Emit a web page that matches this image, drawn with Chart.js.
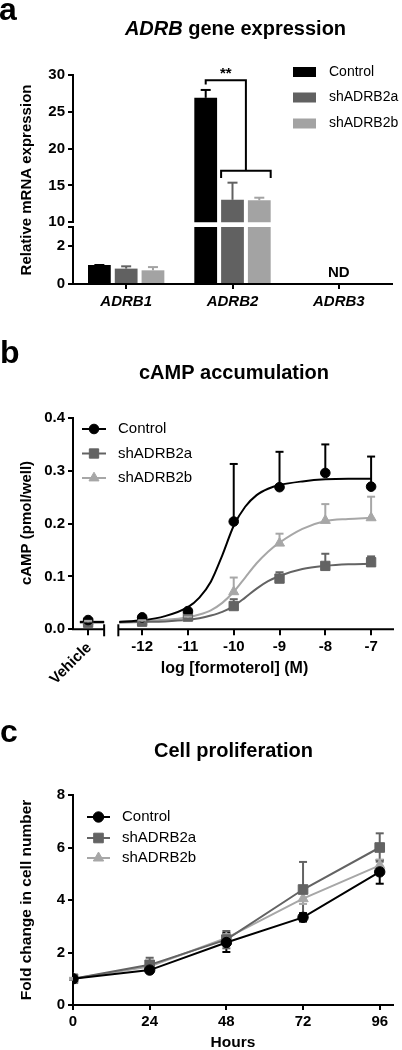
<!DOCTYPE html>
<html><head><meta charset="utf-8">
<script src="https://cdn.jsdelivr.net/npm/chart.js@4.4.1/dist/chart.umd.min.js"></script>
<style>
html,body{margin:0;padding:0;background:#fff;}
#wrap{position:relative;width:402px;height:1050px;overflow:hidden;background:#fff;}
canvas{position:absolute;left:0;top:0;}
</style></head><body>
<div id="wrap">
<canvas id="cA1" width="402" height="1050"></canvas>
<canvas id="cA2" width="402" height="1050"></canvas>
<canvas id="cB" width="402" height="1050"></canvas>
<canvas id="cC" width="402" height="1050"></canvas>
</div>
<script>
// ---------------- Panel a: ADRB gene expression ----------------
const geneNames = ['ADRB1', 'ADRB2', 'ADRB3'];
const seriesNames = ['Control', 'shADRB2a', 'shADRB2b'];
const exprControl = [1.00, 26.9, null];
const exprShA = [0.81, 13.05, null];
const exprShB = [0.72, 12.99, null];
const exprErrControl = [0.00, 1.07, null];
const exprErrShA = [0.12, 2.33, null];
const exprErrShB = [0.17, 0.35, null];
const upperTicks = [10, 15, 20, 25, 30];
const lowerTicks = [0, 2, 3];
const lowerTickLabels = ['0', '2', ''];
const ndLabel = 'ND';
const ndValue = 0.6;
const sigLabel = '**';
const sigTop = 29.3, sigLeftEnd = 28.7, sigLow = 17.0, sigLowEnd = 16.0;

// ---------------- Panel b: cAMP accumulation ----------------
const vehicleLabel = 'Vehicle';
const vehicleLog = -13.18;
const doseLogs = [-12, -11, -10, -9, -8, -7];
const campVehicle = [0.0175, 0.0125, 0.014];   // Control, shADRB2a, shADRB2b
const campVehicleErr = [0.002, 0.002, 0.002];
const campControl = [0.0226, 0.0345, 0.204, 0.269, 0.296, 0.270];
const campShA = [0.0144, 0.024, 0.044, 0.096, 0.120, 0.127];
const campShB = [0.015, 0.022, 0.071, 0.163, 0.206, 0.211];
const campErrControl = [0.003, 0.003, 0.109, 0.067, 0.054, 0.057];
const campErrShA = [0.002, 0.003, 0.013, 0.012, 0.023, 0.011];
const campErrShB = [0.002, 0.002, 0.027, 0.018, 0.031, 0.040];
const fitLogs = [-13.36, -12.83, -12.5, -12, -11.5, -11, -10.75, -10.5, -10.25, -10, -9.75, -9.5, -9.25, -9, -8.5, -8, -7.5, -7];
const fitControl = [0.014, 0.014, 0.014, 0.017, 0.025, 0.042, 0.060, 0.090, 0.140, 0.196, 0.232, 0.254, 0.266, 0.273, 0.280, 0.284, 0.285, 0.285];
const fitShA = [0.013, 0.013, 0.013, 0.014, 0.015, 0.018, 0.021, 0.026, 0.033, 0.044, 0.060, 0.077, 0.091, 0.101, 0.114, 0.120, 0.123, 0.124];
const fitShB = [0.015, 0.015, 0.015, 0.016, 0.018, 0.023, 0.028, 0.036, 0.050, 0.071, 0.098, 0.125, 0.147, 0.164, 0.190, 0.205, 0.209, 0.211];
const campTicks = [0, 0.1, 0.2, 0.3, 0.4];
const xBreakStart = -12.83, xBreakEnd = -12.52;

// ---------------- Panel c: Cell proliferation ----------------
const hours = [0, 24, 48, 72, 96];
const foldControl = [1.0, 1.33, 2.38, 3.34, 5.07];
const foldShA = [1.0, 1.53, 2.49, 4.40, 6.00];
const foldShB = [1.0, 1.47, 2.55, 4.05, 5.32];
const foldErrControl = [0.03, 0.10, 0.36, 0.16, 0.45];
const foldErrShA = [0.03, 0.27, 0.33, 1.05, 0.54];
const foldErrShB = [0.03, 0.12, 0.15, 0.20, 0.22];
const foldTicks = [0, 2, 4, 6, 8];

// ---------------- texts ----------------
const titleA1 = 'ADRB', titleA2 = ' gene expression';
const titleB = 'cAMP accumulation';
const titleC = 'Cell proliferation';
const yTitleA = 'Relative mRNA expression';
const yTitleB = 'cAMP (pmol/well)';
const yTitleC = 'Fold change in cell number';
const xTitleB = 'log [formoterol] (M)';
const xTitleC = 'Hours';

// ---------------- styling ----------------
const FONT = '"Liberation Sans", Arial, Helvetica, sans-serif';
const COL = ['#000000', '#636363', '#a7a7a7'];
const BARCOL = ['#000000', '#616161', '#a3a3a3'];
const W = 402, H = 1050, XH = 40;
const AREA_A1 = {left: 73, right: 392, top: 75, bottom: 222.3};
const AREA_A2 = {left: 73, right: 392, top: 227, bottom: 284};
const AREA_B = {left: 73, right: 394, top: 418, bottom: 629.3};
const AREA_C = {left: 73, right: 392.5, top: 795, bottom: 1005};

function layoutFor(a, xh) {
  return {padding: {left: 0, top: a.top, right: W - a.right, bottom: H - a.bottom - xh}};
}
const tickFont = {family: FONT, size: 15, weight: 'bold'};
const axisGrid = {drawOnChartArea: false, drawTicks: true, tickLength: 5, color: '#000', lineWidth: 2, offset: false};
const axisBorder = {display: true, color: '#000', width: 2};
const base = {responsive: false, animation: false, devicePixelRatio: 1, events: [],
  plugins: {legend: {display: false}, tooltip: {enabled: false}, title: {display: false}}};

function font(size, bold, italic) {
  return (italic ? 'italic ' : '') + (bold ? 'bold ' : '') + size + 'px ' + FONT;
}
function text(ctx, s, x, y, f, align, baseline) {
  ctx.save(); ctx.fillStyle = '#000'; ctx.font = f;
  ctx.textAlign = align || 'center'; ctx.textBaseline = baseline || 'middle';
  ctx.fillText(s, x, y); ctx.restore();
}
function vtext(ctx, s, x, y, f) {
  ctx.save(); ctx.translate(x, y); ctx.rotate(-Math.PI / 2);
  ctx.fillStyle = '#000'; ctx.font = f; ctx.textAlign = 'center'; ctx.textBaseline = 'middle';
  ctx.fillText(s, 0, 0); ctx.restore();
}
function line(ctx, x1, y1, x2, y2, color, w) {
  ctx.save(); ctx.strokeStyle = color || '#000'; ctx.lineWidth = w || 2; ctx.lineCap = 'butt';
  ctx.beginPath(); ctx.moveTo(x1, y1); ctx.lineTo(x2, y2); ctx.stroke(); ctx.restore();
}
// error bars through the library's scale
function drawErrors(chart, capHalf, both) {
  const ys = chart.scales.y;
  chart.data.datasets.forEach((ds, di) => {
    if (!ds.errorUp) return;
    const meta = chart.getDatasetMeta(di);
    meta.data.forEach((el, i) => {
      const e = ds.errorUp[i];
      const raw = ds.data[i];
      const v = (raw !== null && typeof raw === 'object') ? raw.y : raw;
      if (e == null || v == null) return;
      if (v > ys.max || v + e < ys.min) return;
      const x = el.x;
      const yv = ys.getPixelForValue(v), yu = ys.getPixelForValue(v + e);
      const c = ds.errorColor;
      line(chart.ctx, x, yv, x, yu, c, 2);
      line(chart.ctx, x - capHalf, yu, x + capHalf, yu, c, 2);
      if (both) {
        const yd = ys.getPixelForValue(v - e);
        line(chart.ctx, x, yv, x, yd, c, 2);
        line(chart.ctx, x - capHalf, yd, x + capHalf, yd, c, 2);
      }
    });
  });
}
function legendMarker(ctx, x1, x2, y, color, style, r, label, tx) {
  line(ctx, x1, y, x2, y, color, 2);
  ctx.save(); ctx.fillStyle = color; ctx.strokeStyle = color;
  Chart.helpers.drawPoint(ctx, {pointStyle: style, radius: r, borderWidth: 1, rotation: 0}, (x1 + x2) / 2, y);
  ctx.restore();
  text(ctx, label, tx, y, font(15, false), 'left', 'middle');
}

// ---------------- Chart a (upper segment) ----------------
function barSets() {
  const vals = [exprControl, exprShA, exprShB];
  const errs = [exprErrControl, exprErrShA, exprErrShB];
  return vals.map((v, i) => ({label: seriesNames[i], data: v, errorUp: errs[i], errorColor: BARCOL[i],
    backgroundColor: BARCOL[i], borderWidth: 0, clip: 0, categoryPercentage: 0.756, barPercentage: 0.85}));
}
const plugA1 = {
  id: 'plugA1',
  afterDatasetsDraw(chart) { drawErrors(chart, 5, false); },
  afterDraw(chart) {
    const ctx = chart.ctx, ys = chart.scales.y;
    text(ctx, 'a', -1, 20, font(32, true), 'left', 'alphabetic');
    ctx.save(); ctx.font = font(20, true, true); const w1 = ctx.measureText(titleA1).width;
    ctx.font = font(20, true); const w2 = ctx.measureText(titleA2).width; ctx.restore();
    const x0 = 235.5 - (w1 + w2) / 2;
    text(ctx, titleA1, x0, 34.5, font(20, true, true), 'left', 'alphabetic');
    text(ctx, titleA2, x0 + w1, 34.5, font(20, true), 'left', 'alphabetic');
    vtext(ctx, yTitleA, 27, 180, font(15, true));
    // legend
    const ly = [72, 97.5, 123.5];
    seriesNames.forEach((s, i) => {
      ctx.save(); ctx.fillStyle = BARCOL[i]; ctx.fillRect(293, ly[i] - 5, 23, 10); ctx.restore();
      text(ctx, s, 329, ly[i], font(14, false), 'left', 'middle');
    });
    // significance bracket
    const c = chart.getDatasetMeta(0).data[1], a = chart.getDatasetMeta(1).data[1], b = chart.getDatasetMeta(2).data[1];
    const yTop = ys.getPixelForValue(sigTop), yLE = ys.getPixelForValue(sigLeftEnd);
    const yLow = ys.getPixelForValue(sigLow), yLowE = ys.getPixelForValue(sigLowEnd);
    const xr = (a.x + b.x) / 2;
    ctx.save(); ctx.strokeStyle = '#000'; ctx.lineWidth = 2; ctx.lineJoin = 'miter';
    ctx.beginPath(); ctx.moveTo(c.x, yLE); ctx.lineTo(c.x, yTop); ctx.lineTo(xr, yTop); ctx.lineTo(xr, yLow); ctx.stroke();
    ctx.beginPath(); ctx.moveTo(a.x - a.width / 2, yLowE); ctx.lineTo(a.x - a.width / 2, yLow);
    ctx.lineTo(b.x + b.width / 2, yLow); ctx.lineTo(b.x + b.width / 2, yLowE); ctx.stroke();
    ctx.restore();
    text(ctx, sigLabel, (c.x + xr) / 2, yTop - 6, font(15, true), 'center', 'middle');
  }
};
new Chart(document.getElementById('cA1'), {
  type: 'bar',
  data: {labels: geneNames, datasets: barSets()},
  options: Object.assign({}, base, {
    layout: layoutFor(AREA_A1, 0),
    scales: {
      x: {display: false, offset: true},
      y: {min: 10, max: 30, afterFit: s => { s.width = AREA_A1.left; },
        afterBuildTicks: s => { s.ticks = upperTicks.map(v => ({value: v})); },
        ticks: {color: '#000', font: tickFont, padding: 3}, grid: axisGrid, border: axisBorder}
    }
  }),
  plugins: [plugA1]
});

// ---------------- Chart a (lower segment) ----------------
const plugA2 = {
  id: 'plugA2',
  afterDatasetsDraw(chart) { drawErrors(chart, 5, false); },
  afterDraw(chart) {
    const ctx = chart.ctx, xs = chart.scales.x, ys = chart.scales.y;
    text(ctx, ndLabel, xs.getPixelForValue(2), ys.getPixelForValue(ndValue), font(15, true), 'center', 'middle');
    geneNames.forEach((g, i) => text(ctx, g, xs.getPixelForValue(i), ys.getPixelForValue(0) + 18, font(15, true, true), 'center', 'middle'));
  }
};
new Chart(document.getElementById('cA2'), {
  type: 'bar',
  data: {labels: geneNames, datasets: barSets()},
  options: Object.assign({}, base, {
    layout: layoutFor(AREA_A2, XH),
    scales: {
      x: {offset: true, afterFit: s => { s.height = XH; },
        ticks: {display: false},
        grid: axisGrid, border: axisBorder},
      y: {min: 0, max: 3, afterFit: s => { s.width = AREA_A2.left; },
        afterBuildTicks: s => { s.ticks = lowerTicks.map(v => ({value: v})); },
        ticks: {color: '#000', font: tickFont, padding: 3,
          callback: (v) => lowerTickLabels[lowerTicks.indexOf(v)]},
        grid: axisGrid, border: axisBorder}
    }
  }),
  plugins: [plugA2]
});

// ---------------- Chart b ----------------
function pts(xsArr, ysArr) { return xsArr.map((x, i) => ({x: x, y: ysArr[i]})); }
function fitPts(vals) {
  const p = pts(fitLogs, vals);
  const cut = p.findIndex(q => q.x > xBreakStart);
  p.splice(cut, 0, {x: (xBreakStart + xBreakEnd) / 2, y: null});
  return p;
}
const campVals = [campControl, campShA, campShB];
const campErrs = [campErrControl, campErrShA, campErrShB];
const fits = [fitControl, fitShA, fitShB];
const stylesB = [{s: 'circle', r: 4.8}, {s: 'rect', r: 6.6}, {s: 'triangle', r: 5.8}];
const dsB = [];
campVals.forEach((v, i) => {
  dsB.push({label: seriesNames[i], data: [{x: vehicleLog, y: campVehicle[i]}].concat(pts(doseLogs, v)),
    errorUp: [campVehicleErr[i]].concat(campErrs[i]), errorColor: COL[i],
    showLine: false, pointStyle: stylesB[i].s, pointRadius: stylesB[i].r, backgroundColor: COL[i],
    borderColor: COL[i], pointBorderWidth: 1});
});
fits.forEach((f, i) => {
  dsB.push({label: seriesNames[i] + ' fit', data: fitPts(f), showLine: true, pointRadius: 0,
    borderColor: COL[i], borderWidth: 2, cubicInterpolationMode: 'monotone', spanGaps: false, fill: false});
});
const plugB = {
  id: 'plugB',
  afterDatasetsDraw(chart) { drawErrors(chart, 4, false); },
  afterDraw(chart) {
    const ctx = chart.ctx, xs = chart.scales.x, ys = chart.scales.y;
    const y0 = ys.getPixelForValue(0);
    // broken x axis
    const xa = xs.getPixelForValue(xs.min) - 1, xb = xs.getPixelForValue(xBreakStart);
    const xc = xs.getPixelForValue(xBreakEnd), xd = xs.getPixelForValue(xs.max);
    line(ctx, xa, y0, xb, y0, '#000', 2);
    line(ctx, xc, y0, xd, y0, '#000', 2);
    line(ctx, xb, y0 - 5, xb, y0 + 7, '#000', 2);
    line(ctx, xc, y0 - 5, xc, y0 + 7, '#000', 2);
    // vehicle label
    ctx.save(); ctx.translate(xs.getPixelForValue(vehicleLog) + 1, y0 + 16); ctx.rotate(-Math.PI / 4);
    ctx.font = font(15, true); ctx.fillStyle = '#000'; ctx.textAlign = 'right'; ctx.textBaseline = 'middle';
    ctx.fillText(vehicleLabel, 0, 0); ctx.restore();
    text(ctx, 'b', 0, 363, font(32, true), 'left', 'alphabetic');
    text(ctx, titleB, 234, 378.5, font(20, true), 'center', 'alphabetic');
    vtext(ctx, yTitleB, 27, 523, font(15, true));
    text(ctx, xTitleB, 234.5, 669, font(16, true), 'center', 'middle');
    const ly = [429, 453.5, 478];
    seriesNames.forEach((s, i) => legendMarker(ctx, 82, 106, ly[i], COL[i], stylesB[i].s, stylesB[i].r, s, 118));
  }
};
new Chart(document.getElementById('cB'), {
  type: 'scatter',
  data: {datasets: dsB},
  options: Object.assign({}, base, {
    layout: layoutFor(AREA_B, XH),
    scales: {
      x: {type: 'linear', min: -13.51, max: -6.5, afterFit: s => { s.height = XH; },
        afterBuildTicks: s => { s.ticks = [vehicleLog].concat(doseLogs).map(v => ({value: v})); },
        ticks: {color: '#000', font: tickFont, padding: 3, maxRotation: 0,
          callback: (v) => (v === vehicleLog ? '' : String(v))},
        grid: Object.assign({}, axisGrid, {tickLength: 6}), border: {display: false}},
      y: {min: 0, max: 0.4, afterFit: s => { s.width = AREA_B.left; },
        afterBuildTicks: s => { s.ticks = campTicks.map(v => ({value: v})); },
        ticks: {color: '#000', font: tickFont, padding: 3, callback: v => v.toFixed(1)},
        grid: axisGrid, border: axisBorder}
    }
  }),
  plugins: [plugB]
});

// ---------------- Chart c ----------------
const foldVals = [foldControl, foldShA, foldShB];
const foldErrs = [foldErrControl, foldErrShA, foldErrShB];
const stylesC = [{s: 'circle', r: 5.2}, {s: 'rect', r: 6.8}, {s: 'triangle', r: 6}];
const dsC = foldVals.map((v, i) => ({label: seriesNames[i], data: pts(hours, v), errorUp: foldErrs[i], errorColor: COL[i],
  borderColor: COL[i], backgroundColor: COL[i], borderWidth: 2, tension: 0, pointStyle: stylesC[i].s,
  pointRadius: stylesC[i].r, pointBorderWidth: 1, pointBackgroundColor: COL[i], pointBorderColor: COL[i], fill: false}));
const plugC = {
  id: 'plugC',
  beforeDatasetsDraw(chart) { drawErrors(chart, 4, true); },
  afterDraw(chart) {
    const ctx = chart.ctx;
    text(ctx, 'c', 0, 742, font(32, true), 'left', 'alphabetic');
    text(ctx, titleC, 233.5, 756.5, font(20, true), 'center', 'alphabetic');
    vtext(ctx, yTitleC, 27, 900, font(15.5, true));
    text(ctx, xTitleC, 233, 1043, font(15.5, true), 'center', 'middle');
    const ly = [817, 838, 858];
    seriesNames.forEach((s, i) => legendMarker(ctx, 87, 110, ly[i], COL[i], stylesC[i].s, stylesC[i].r, s, 122));
  }
};
new Chart(document.getElementById('cC'), {
  type: 'line',
  data: {datasets: dsC},
  options: Object.assign({}, base, {
    layout: layoutFor(AREA_C, XH),
    scales: {
      x: {type: 'linear', min: 0, max: 100, afterFit: s => { s.height = XH; },
        afterBuildTicks: s => { s.ticks = hours.map(v => ({value: v})); },
        ticks: {color: '#000', font: tickFont, padding: 3, maxRotation: 0},
        grid: axisGrid, border: axisBorder},
      y: {min: 0, max: 8, afterFit: s => { s.width = AREA_C.left; },
        afterBuildTicks: s => { s.ticks = foldTicks.map(v => ({value: v})); },
        ticks: {color: '#000', font: tickFont, padding: 3},
        grid: axisGrid, border: axisBorder}
    }
  }),
  plugins: [plugC]
});
</script>
</body></html>
